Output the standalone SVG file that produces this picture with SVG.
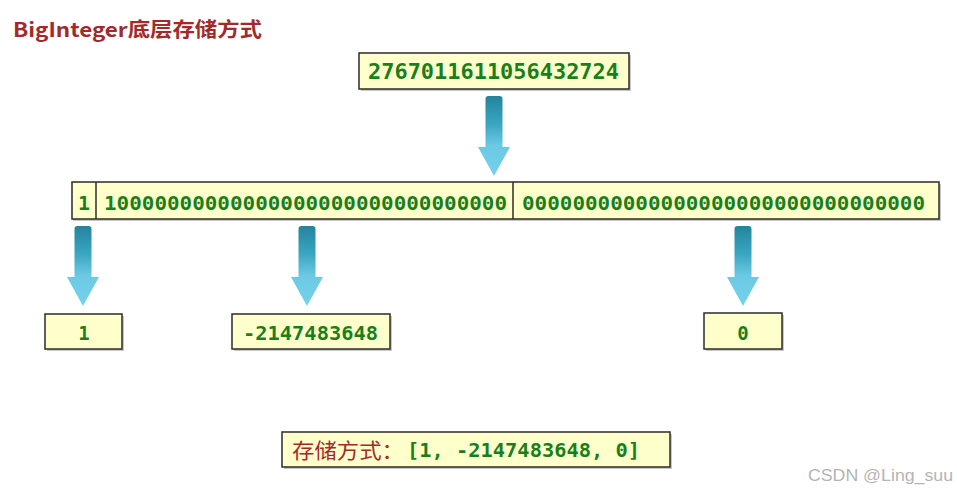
<svg xmlns="http://www.w3.org/2000/svg" width="957" height="492" viewBox="0 0 957 492">
<defs>
<linearGradient id="ag" x1="0" y1="0" x2="0" y2="1">
<stop offset="0" stop-color="#23849c"/>
<stop offset="0.35" stop-color="#3aa6c2"/>
<stop offset="0.62" stop-color="#6cc9e3"/>
<stop offset="1" stop-color="#76d2ec"/>
</linearGradient>
<path id="arr" d="M-8.5,3 Q-8.5,0 -5.5,0 L5.5,0 Q8.5,0 8.5,3 L8.5,51 L16,51 L0,80 L-16,51 L-8.5,51 Z"/>
</defs>
<style>
.box{fill:#ffffcc;stroke:#2b2b2b;stroke-width:1.5}
.sh{fill:#c8c8c8}
.num{font-family:"DejaVu Sans Mono","Liberation Mono",monospace;font-weight:bold;fill:#1a7f1a}
.cn{font-family:"Noto Sans CJK SC","Noto Sans",sans-serif;fill:#a32a2a}
</style>
<rect width="957" height="492" fill="#ffffff"/>
<text x="13" y="37" class="cn" font-size="20" font-weight="bold" textLength="249" lengthAdjust="spacingAndGlyphs">BigInteger底层存储方式</text>

<g id="connectors" fill="url(#ag)">
<use href="#arr" transform="translate(494,96)"/>
<use href="#arr" transform="translate(83,226)"/>
<use href="#arr" transform="translate(307,226)"/>
<use href="#arr" transform="translate(743,226)"/>
</g>

<g id="n-big">
<rect class="sh" x="361" y="55" width="270" height="36"/>
<rect class="box" x="359" y="53" width="270" height="36"/>
<text class="num" x="368" y="79" font-size="21" textLength="251" lengthAdjust="spacingAndGlyphs">2767011611056432724</text>
</g>

<g id="n-bits">
<rect class="sh" x="73" y="184" width="868" height="37"/>
<rect class="box" x="72" y="182" width="867" height="37"/>
<line x1="96" y1="182" x2="96" y2="219" stroke="#2b2b2b" stroke-width="1.5"/>
<line x1="513" y1="182" x2="513" y2="219" stroke="#2b2b2b" stroke-width="1.5"/>
<text class="num" x="84" y="210" font-size="20" text-anchor="middle">1</text>
<text class="num" x="104" y="210" font-size="20" textLength="403" lengthAdjust="spacingAndGlyphs">10000000000000000000000000000000</text>
<text class="num" x="522" y="210" font-size="20" textLength="403" lengthAdjust="spacingAndGlyphs">00000000000000000000000000000000</text>
</g>

<g id="n-1">
<rect class="sh" x="47" y="316" width="77" height="35"/>
<rect class="box" x="45" y="314" width="77" height="35"/>
<text class="num" x="84" y="340" font-size="19" text-anchor="middle">1</text>
</g>

<g id="n-2">
<rect class="sh" x="234" y="316" width="158" height="35"/>
<rect class="box" x="232" y="314" width="158" height="35"/>
<text class="num" x="243" y="340" font-size="19" textLength="135" lengthAdjust="spacingAndGlyphs">-2147483648</text>
</g>

<g id="n-3">
<rect class="sh" x="706" y="315" width="78" height="36"/>
<rect class="box" x="704" y="313" width="78" height="36"/>
<text class="num" x="743" y="340" font-size="19" text-anchor="middle">0</text>
</g>

<g id="n-result">
<rect class="sh" x="284" y="434" width="388" height="35"/>
<rect class="box" x="282" y="432" width="388" height="35"/>
<text class="cn" x="292" y="458" font-size="21" textLength="112" lengthAdjust="spacingAndGlyphs">存储方式：</text>
<text class="num" x="407" y="457" font-size="19" textLength="233" lengthAdjust="spacingAndGlyphs">[1, -2147483648, 0]</text>
</g>

<text x="808" y="481" font-family="Liberation Sans, Arial, sans-serif" font-size="16" fill="#b4b4b4" textLength="145" lengthAdjust="spacingAndGlyphs">CSDN @Ling_suu</text>
</svg>
